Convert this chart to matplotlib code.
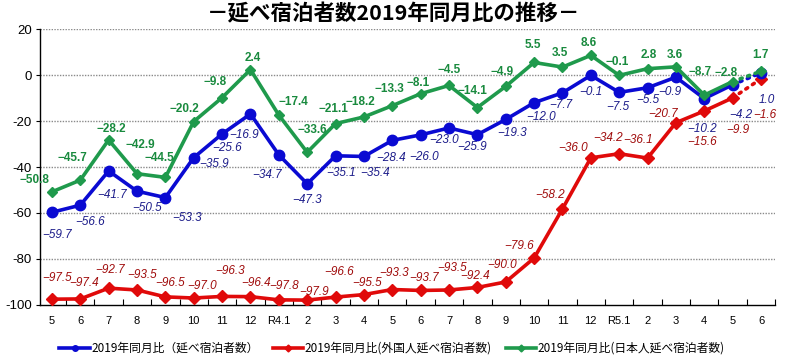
import matplotlib
matplotlib.use("Agg")
import matplotlib.pyplot as plt
from matplotlib.lines import Line2D

plt.rcParams['font.family'] = ['Liberation Sans', 'Noto Sans CJK JP', 'DejaVu Sans']

months = ["5", "6", "7", "8", "9", "10", "11", "12", "R4.1", "2", "3", "4", "5",
          "6", "7", "8", "9", "10", "11", "12", "R5.1", "2", "3", "4", "5", "6"]
total = [-59.7, -56.6, -41.7, -50.5, -53.3, -35.9, -25.6, -16.9, -34.7, -47.3, -35.1,
         -35.4, -28.4, -26.0, -23.0, -25.9, -19.3, -12.0, -7.7, -0.1, -7.5, -5.5,
         -0.9, -10.2, -4.2, 1.0]
foreign = [-97.5, -97.4, -92.7, -93.5, -96.5, -97.0, -96.3, -96.4, -97.8, -97.9, -96.6,
           -95.5, -93.3, -93.7, -93.5, -92.4, -90.0, -79.6, -58.2, -36.0, -34.2, -36.1,
           -20.7, -15.6, -9.9, -1.6]
japanese = [-50.8, -45.7, -28.2, -42.9, -44.5, -20.2, -9.8, 2.4, -17.4, -33.6, -21.1,
            -18.2, -13.3, -8.1, -4.5, -14.1, -4.9, 5.5, 3.5, 8.6, -0.1, 2.8, 3.6,
            -8.7, -2.8, 1.7]
names = ["2019年同月比（延べ宿泊者数）", "2019年同月比(外国人延べ宿泊者数)",
         "2019年同月比(日本人延べ宿泊者数)"]
title = "－延べ宿泊者数2019年同月比の推移－"

# label offsets in pixels (dx, dy up)
off_total = [(5, -23), (10, -17), (3, -24), (10, -17), (22, -20), (20, -6), (5, -14),
             (-6, -21), (-12, -20), (0, -16), (6, -17), (11, -17), (-1, -18), (3, -22),
             (-5, -12), (-5, -12), (6, -14), (7, -14), (-2, -12), (0, -17), (-1, -15),
             (0, -12), (-6, -15), (-2, -30), (8, -30), (6, -27)]
off_foreign = [(5, 21), (4, 16), (1, 18), (5, 15), (5, 14), (8, 12), (8, 25), (6, 14),
               (5, 14), (7, 8), (4, 25), (3, 12), (2, 17), (3, 12), (3, 22), (-2, 11),
               (-4, 17), (-15, 12), (-12, 14), (-18, 10), (-11, 16), (-9, 18), (-13, 9),
               (-2, -31), (5, -32), (4, -36)]
off_japan = [(-17, 12), (-8, 22), (3, 11), (3, 29), (-6, 19), (-9, 13), (-7, 16), (2, 12),
             (15, 13), (5, 22), (-2, 15), (-4, 15), (-3, 17), (-3, 11), (0, 15), (-5, 17),
             (-4, 14), (-1, 17), (-3, 14), (-2, 12), (-2, 13), (1, 14), (-1, 12),
             (-4, 23), (-7, 9), (-1, 16)]

C_BLUE = "#0a0ad2"
C_RED = "#e00a0a"
C_GREEN = "#1f9a4c"
T_BLUE = "#1c1c8a"
T_RED = "#a00c0c"
T_GREEN = "#198a3e"

fig = plt.figure(figsize=(8, 3.6), dpi=100)
ax = fig.add_axes([0.05, 0.153, 0.919, 0.766])

x = list(range(len(months)))

def draw(vals, color, marker, ms, z):
    ax.plot(x[:-1], vals[:-1], color=color, lw=2.6, marker=marker, ms=ms,
            markeredgecolor=color, zorder=z, solid_joinstyle='round')
    ax.plot(x[-2:], vals[-2:], color=color, lw=2.6, linestyle=(0, (0.6, 1.6)),
            dash_capstyle='round', zorder=z - 0.5)
    ax.plot(x[-1:], vals[-1:], color=color, marker=marker, ms=ms, lw=0,
            markeredgecolor=color, zorder=z)

draw(foreign, C_RED, 'D', 6.5, 3)
draw(total, C_BLUE, 'o', 7.5, 4)
draw(japanese, C_GREEN, 'D', 5.5, 5)

def fmt(v):
    s = f"{abs(v):.1f}"
    return ("−" + s) if v < 0 else s

for i, v in enumerate(total):
    ax.annotate(fmt(v), (i, v), xytext=off_total[i], textcoords='offset pixels',
                ha='center', va='center', fontsize=8.5, style='italic', color=T_BLUE,
                zorder=6)
for i, v in enumerate(foreign):
    ax.annotate(fmt(v), (i, v), xytext=off_foreign[i], textcoords='offset pixels',
                ha='center', va='center', fontsize=8.5, style='italic', color=T_RED,
                zorder=6)
for i, v in enumerate(japanese):
    ax.annotate(fmt(v), (i, v), xytext=off_japan[i], textcoords='offset pixels',
                ha='center', va='center', fontsize=8.5, fontweight='bold', color=T_GREEN,
                zorder=6)

ax.set_xlim(-0.42, 25.5)
ax.set_ylim(-100, 20)
ax.set_yticks([20, 0, -20, -40, -60, -80, -100])
ax.set_yticklabels(["20", "0", "-20", "-40", "-60", "-80", "-100"], fontsize=9.5)
ax.set_xticks(x)
ax.set_xticklabels(months, fontsize=8)
ax.set_xticks([i + 0.5 for i in x], minor=True)
ax.tick_params(axis='x', which='major', length=0, pad=8)
ax.tick_params(axis='x', which='minor', direction='in', length=4, width=0.8)
ax.tick_params(axis='y', length=3, width=0.8, pad=3)
for yv in [20, 0, -20, -40, -60, -80]:
    ax.axhline(yv, color="#8a8a8a", lw=1.0, linestyle=(0, (1, 1)), zorder=1)
for s in ['top', 'right']:
    ax.spines[s].set_visible(False)
ax.spines['left'].set_linewidth(1.0)
ax.spines['bottom'].set_linewidth(1.0)

fig.text(0.4925, 0.962, title, ha='center', va='center', fontsize=15.5,
         fontweight='bold', family=['Noto Sans CJK JP', 'DejaVu Sans'])

handles = [Line2D([], [], color=C_BLUE, lw=2.6, marker='o', ms=4),
           Line2D([], [], color=C_RED, lw=2.6, marker='D', ms=3.5),
           Line2D([], [], color=C_GREEN, lw=2.6, marker='D', ms=3.5)]
fig.legend(handles, names, loc='center', bbox_to_anchor=(0.49, 0.032), ncol=3,
           frameon=False, handlelength=2.6, handletextpad=0.1, columnspacing=1.2,
           prop={'family': ['Noto Sans CJK JP', 'DejaVu Sans'], 'size': 8.5})

fig.savefig("out.png", dpi=100)
